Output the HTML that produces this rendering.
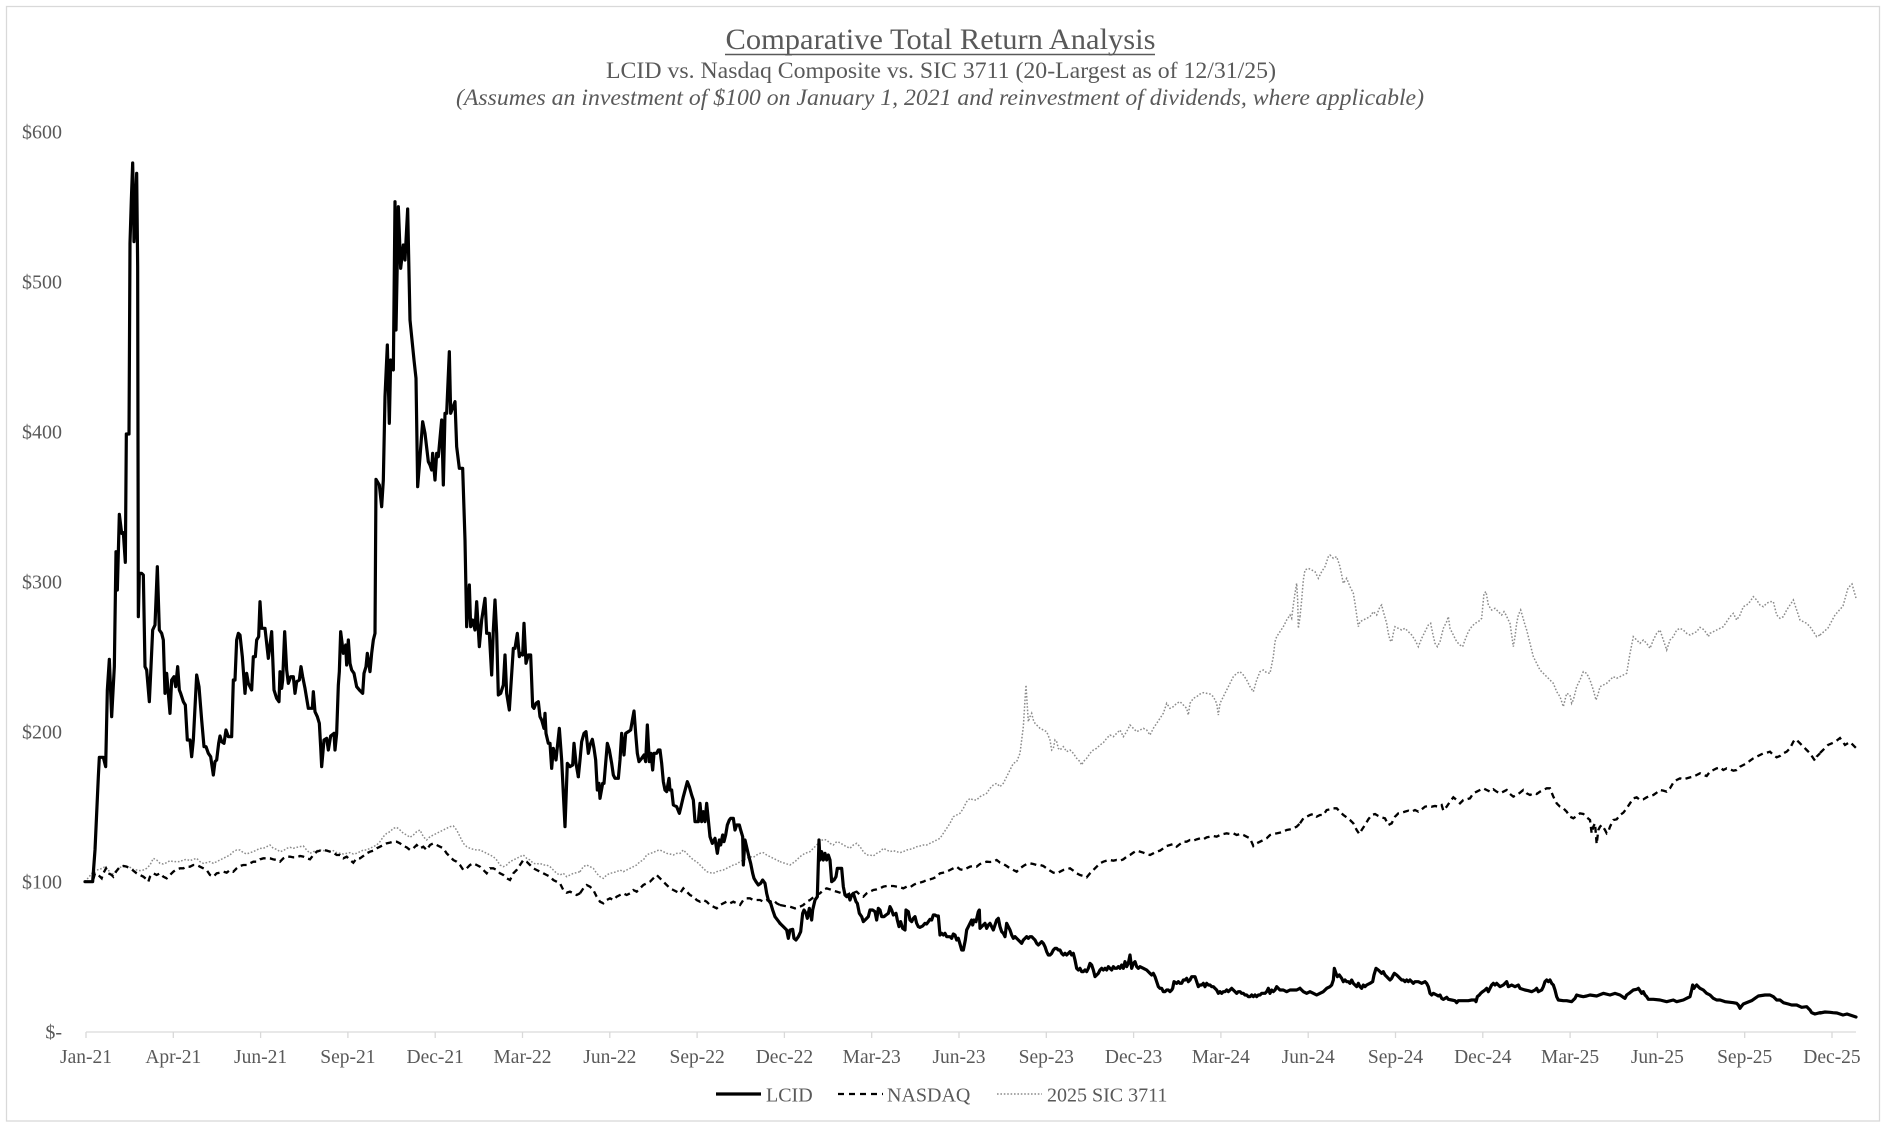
<!DOCTYPE html>
<html><head><meta charset="utf-8"><style>html,body{margin:0;padding:0;background:#fff}svg{display:block}</style></head>
<body>
<svg width="1881" height="1126" viewBox="0 0 1881 1126" xmlns="http://www.w3.org/2000/svg" font-family="'Liberation Serif', 'Times New Roman', serif">
<rect x="0" y="0" width="1881" height="1126" fill="#fff"/>
<rect x="6.5" y="6.5" width="1873" height="1114.5" fill="none" stroke="#d9d9d9" stroke-width="1.3"/>

<!-- titles -->
<text x="940.5" y="49" text-anchor="middle" font-size="30" fill="#595959" textLength="430" lengthAdjust="spacingAndGlyphs">Comparative Total Return Analysis</text>
<line x1="725" y1="54.5" x2="1155" y2="54.5" stroke="#595959" stroke-width="1.5"/>
<text x="941" y="78" text-anchor="middle" font-size="23.5" fill="#595959" textLength="670" lengthAdjust="spacingAndGlyphs">LCID vs. Nasdaq Composite vs. SIC 3711 (20-Largest as of 12/31/25)</text>
<text x="940" y="105" text-anchor="middle" font-size="23.5" font-style="italic" fill="#595959" textLength="968" lengthAdjust="spacingAndGlyphs">(Assumes an investment of $100 on January 1, 2021 and reinvestment of dividends, where applicable)</text>

<!-- y labels -->
<g font-size="20" fill="#595959" text-anchor="end">
<text x="62" y="138.5">$600</text>
<text x="62" y="288.5">$500</text>
<text x="62" y="438.5">$400</text>
<text x="62" y="588.5">$300</text>
<text x="62" y="738.5">$200</text>
<text x="62" y="888.5">$100</text>
<text x="62" y="1038.5">$-</text>
</g>

<!-- x axis -->
<line x1="86" y1="1032" x2="1856" y2="1032" stroke="#d9d9d9" stroke-width="1.3"/>
<g stroke="#d9d9d9" stroke-width="1.3">
<line x1="86" y1="1032" x2="86" y2="1038"/><line x1="173.3" y1="1032" x2="173.3" y2="1038"/><line x1="260.6" y1="1032" x2="260.6" y2="1038"/><line x1="347.9" y1="1032" x2="347.9" y2="1038"/><line x1="435.2" y1="1032" x2="435.2" y2="1038"/><line x1="522.5" y1="1032" x2="522.5" y2="1038"/><line x1="609.8" y1="1032" x2="609.8" y2="1038"/><line x1="697.1" y1="1032" x2="697.1" y2="1038"/><line x1="784.4" y1="1032" x2="784.4" y2="1038"/><line x1="871.7" y1="1032" x2="871.7" y2="1038"/><line x1="959" y1="1032" x2="959" y2="1038"/><line x1="1046.3" y1="1032" x2="1046.3" y2="1038"/><line x1="1133.6" y1="1032" x2="1133.6" y2="1038"/><line x1="1220.9" y1="1032" x2="1220.9" y2="1038"/><line x1="1308.2" y1="1032" x2="1308.2" y2="1038"/><line x1="1395.5" y1="1032" x2="1395.5" y2="1038"/><line x1="1482.8" y1="1032" x2="1482.8" y2="1038"/><line x1="1570.1" y1="1032" x2="1570.1" y2="1038"/><line x1="1657.4" y1="1032" x2="1657.4" y2="1038"/><line x1="1744.7" y1="1032" x2="1744.7" y2="1038"/><line x1="1832" y1="1032" x2="1832" y2="1038"/>
</g>
<g font-size="19.5" fill="#595959" text-anchor="middle">
<text x="86" y="1063">Jan-21</text><text x="173.3" y="1063">Apr-21</text><text x="260.6" y="1063">Jun-21</text><text x="347.9" y="1063">Sep-21</text><text x="435.2" y="1063">Dec-21</text><text x="522.5" y="1063">Mar-22</text><text x="609.8" y="1063">Jun-22</text><text x="697.1" y="1063">Sep-22</text><text x="784.4" y="1063">Dec-22</text><text x="871.7" y="1063">Mar-23</text><text x="959" y="1063">Jun-23</text><text x="1046.3" y="1063">Sep-23</text><text x="1133.6" y="1063">Dec-23</text><text x="1220.9" y="1063">Mar-24</text><text x="1308.2" y="1063">Jun-24</text><text x="1395.5" y="1063">Sep-24</text><text x="1482.8" y="1063">Dec-24</text><text x="1570.1" y="1063">Mar-25</text><text x="1657.4" y="1063">Jun-25</text><text x="1744.7" y="1063">Sep-25</text><text x="1832" y="1063">Dec-25</text>
</g>

<!-- ===== SIC 3711 (dotted gray) ===== -->
<g fill="none" stroke="#8c8c8c" stroke-width="4.5" stroke-dasharray="4.8 5.4">
<polyline transform="translate(80 400) scale(0.333333)" points="15,1445 40,1415 50,1410 60,1408 75,1400 85,1410 95,1425 105,1415 115,1405 125,1400 135,1398 150,1402 160,1408 170,1410 180,1412 190,1410 200,1405 210,1395 220,1375 230,1380 240,1390 250,1392 260,1388 270,1382 280,1385 290,1385 300,1385 310,1380 320,1378 330,1382 340,1378 350,1375 360,1385 370,1390 380,1388 390,1385 400,1390 410,1385 420,1380 430,1375 440,1370 450,1365 460,1355 470,1350 480,1350 490,1358 500,1362 510,1358 520,1355 530,1350 540,1345 550,1345 560,1340 570,1335 580,1345 590,1348 600,1355 610,1352 620,1345 630,1342 640,1345 650,1342 660,1340 670,1338 680,1350 690,1360 700,1355 710,1352 720,1350 730,1352 740,1350 750,1355 760,1352 770,1358 780,1360 790,1362 800,1360 810,1358 820,1362 830,1360 840,1355 850,1350 860,1350 870,1345 880,1340 890,1335 900,1325 910,1310 920,1300 930,1295 940,1285 950,1282 960,1290 970,1300 980,1305 990,1312 1000,1305 1010,1295 1020,1290 1030,1310 1040,1320 1050,1310 1060,1305 1070,1300 1080,1295 1090,1290 1100,1285 1110,1280 1120,1278 1130,1290 1140,1310 1150,1330 1160,1340 1170,1345 1180,1348 1190,1350 1200,1350 1210,1355 1220,1360 1230,1365 1240,1370 1250,1380 1260,1395 1270,1400 1280,1395 1290,1385 1300,1380 1310,1375 1320,1370 1330,1365 1340,1375 1350,1380 1360,1390 1370,1392 1380,1390 1390,1395 1400,1395 1410,1400 1420,1410 1430,1420 1440,1425 1450,1420 1460,1430 1470,1425 1480,1420 1490,1418 1500,1415"/>
<polyline transform="translate(480 420) scale(0.333333)" points="300,1355 310,1340 320,1335 330,1340 340,1345 350,1360 360,1370 370,1375 380,1365 390,1360 400,1358 410,1355 420,1350 430,1355 440,1350 450,1345 460,1340 470,1335 480,1325 490,1320 500,1305 510,1300 520,1298 530,1292 540,1290 550,1295 560,1300 570,1302 580,1305 590,1300 600,1300 610,1290 620,1300 630,1310 640,1320 650,1325 660,1335 670,1345 680,1355 690,1358 700,1360 710,1355 720,1352 730,1350 740,1345 750,1340 760,1335 770,1332 780,1325 790,1320 800,1315 810,1310 820,1312 830,1305 840,1300 850,1298 860,1305 870,1310 880,1315 890,1320 900,1325"/>
<polyline transform="translate(780 540) scale(0.333333)" points="0,965 15,970 30,975 45,965 60,950 75,940 90,935 100,925 110,915 120,905 130,898 140,900 150,910 160,915 170,905 180,908 190,915 200,920 210,925 220,915 230,910 240,920 250,935 260,945 270,945 280,948 290,940 300,935 310,925 320,930 330,935 340,932 350,935 360,938 370,935 380,930 390,928 400,925 410,920 420,918 430,915 440,915 450,910 460,905 470,900 480,895 490,880 500,865 510,850 520,830 530,825 540,820 550,805 560,785 570,775 580,780 590,780 600,770 610,765 620,760 630,745 640,735 650,730 660,740 670,730 680,710 690,690 700,670 710,665 720,640 730,560 735,480 738,435 742,500 745,545 750,530 755,520 760,540 765,550 770,555 780,565 790,570 800,575 810,600 815,630 820,625 825,600 830,605 835,625 840,630 850,620 860,635 870,630 880,640 890,655 900,665 905,675 910,665 920,655 930,640 940,630 950,625 960,615 970,608 980,595 990,585 1000,590 1010,580 1020,570 1030,590 1040,575 1050,555 1060,565 1070,575 1080,570 1090,565 1100,570 1110,585 1120,565 1130,550 1140,535 1150,520 1160,490 1170,505 1180,500 1190,490 1200,485 1210,495 1220,505 1225,525 1230,490 1240,475 1250,470 1260,462 1270,458 1280,460 1290,462 1300,470 1310,490 1315,525 1320,490 1330,470 1340,450 1350,430 1360,410 1370,400 1380,395 1390,405 1400,420 1410,440 1420,455 1430,420 1440,395 1450,390 1460,398 1470,400 1480,350 1485,305 1490,290 1500,275 1510,260 1520,240 1530,225 1535,235 1540,195 1545,160 1550,130 1553,180 1555,265 1560,230"/>
<polyline transform="translate(1300 540) scale(0.333333)" points="0,230 5,180 10,120 15,90 25,85 35,90 45,95 55,115 65,95 75,80 85,50 90,45 100,55 110,50 120,80 125,105 130,130 140,115 150,140 160,160 165,190 170,225 175,260 180,245 190,240 200,235 210,230 220,215 230,225 240,200 245,195 250,215 260,250 265,280 270,300 275,305 280,280 285,260 295,265 305,270 315,265 325,275 335,285 345,300 355,320 365,295 375,275 385,255 392,250 398,280 405,310 412,320 420,305 430,265 440,245 445,230 450,265 460,285 470,305 480,315 488,320 495,300 505,275 515,260 525,250 535,245 545,235 552,160 558,155 565,195 575,210 585,205 595,215 605,225 612,215 618,225 625,240 630,250 640,320 645,290 650,250 655,225 662,210 668,230 675,255 680,270 685,290 690,310 695,330 700,350 710,370 720,390 730,400 740,410 750,420 760,430 770,455 780,470 790,500 800,460 810,465 815,490 820,480 830,440 840,420 850,395 860,400 870,420 880,450 888,480 895,460 900,440 910,435 920,430 930,420 940,410 950,415 960,410 970,405 980,400 990,340 1000,290 1010,300 1020,310 1030,300 1040,310 1050,325 1060,300 1070,280 1080,270 1090,300 1100,330 1110,300 1120,290 1130,270 1140,265 1150,270 1160,280 1170,285 1180,280 1190,275 1200,262 1210,268 1220,280 1225,290 1230,280 1240,275 1250,270 1260,265 1270,260 1280,245 1290,230 1300,220 1310,240 1320,225 1330,200 1340,195 1350,185 1360,170 1370,180 1380,195 1390,200 1400,190 1410,185 1420,185 1425,205 1430,225 1440,235 1450,230 1460,210 1470,195 1480,180 1490,210 1500,240 1510,245 1520,250 1530,260 1540,275 1550,290 1560,285"/>
</g>
<polyline fill="none" stroke="#8c8c8c" stroke-width="1.5" stroke-dasharray="1.6 1.8" points="1820,635 1828,628 1835,615 1843,606 1848,588 1852,584 1856,598"/>

<!-- ===== NASDAQ (dashed) ===== -->
<g fill="none" stroke="#000" stroke-width="7" stroke-dasharray="18 13">
<polyline transform="translate(80 400) scale(0.333333)" points="15,1445 38,1445 45,1420 55,1425 65,1435 70,1420 78,1405 85,1420 95,1425 100,1430 108,1415 120,1400 130,1398 140,1400 150,1405 160,1412 170,1420 180,1425 190,1430 200,1438 205,1445 210,1430 220,1420 230,1425 240,1420 250,1430 260,1435 270,1425 280,1415 290,1408 300,1405 310,1405 320,1400 330,1400 340,1395 350,1395 360,1400 370,1405 380,1410 390,1425 400,1430 410,1420 420,1418 430,1415 440,1418 450,1410 460,1415 470,1405 480,1398 490,1395 500,1395 510,1390 520,1385 530,1385 540,1378 550,1375 560,1375 570,1375 580,1378 590,1380 600,1385 610,1375 620,1370 630,1370 640,1372 650,1372 660,1368 670,1370 680,1375 690,1378 700,1365 710,1355 720,1352 730,1350 740,1352 750,1355 760,1358 770,1365 780,1365 790,1375 800,1370 810,1380 820,1388 830,1375 840,1375 850,1368 860,1360 870,1355 880,1352 890,1345 900,1340 910,1335 920,1330 930,1328 940,1325 950,1325 960,1330 970,1338 980,1342 990,1350 1000,1345 1010,1335 1020,1345 1030,1340 1040,1350 1050,1335 1060,1330 1070,1335 1080,1340 1090,1345 1100,1360 1110,1370 1120,1380 1130,1385 1140,1395 1150,1410 1160,1405 1170,1395 1180,1390 1190,1395 1200,1400 1210,1410 1220,1420 1230,1405 1240,1405 1250,1410 1260,1420 1270,1425 1280,1435 1290,1440 1300,1420 1310,1410 1320,1395 1330,1380 1340,1385 1350,1395 1360,1405 1370,1410 1380,1415 1390,1420 1400,1425 1410,1430 1420,1440 1430,1445 1440,1450 1450,1470 1460,1478 1470,1475 1480,1480 1490,1485 1500,1480"/>
<polyline transform="translate(480 420) scale(0.333333)" points="300,1420 310,1405 320,1395 330,1400 340,1410 350,1430 360,1445 370,1450 380,1440 390,1435 400,1440 410,1430 420,1425 430,1420 440,1425 450,1420 460,1410 470,1415 480,1405 490,1395 500,1390 510,1385 520,1375 530,1365 540,1375 550,1385 560,1395 570,1405 580,1410 590,1415 600,1420 610,1405 620,1415 630,1425 640,1430 650,1440 660,1445 670,1440 680,1445 690,1455 700,1460 710,1465 720,1455 730,1450 740,1445 750,1450 760,1445 770,1450 780,1455 790,1440 800,1435 810,1435 820,1440 830,1440 840,1440 850,1445 860,1440 870,1445 880,1440 890,1450 900,1455"/>
<polyline transform="translate(780 540) scale(0.333333)" points="0,1095 15,1098 30,1100 45,1105 60,1100 70,1095 80,1085 90,1080 100,1072 110,1065 120,1060 130,1050 140,1045 150,1048 160,1052 170,1055 180,1058 190,1062 200,1065 210,1060 220,1058 230,1055 240,1065 250,1070 260,1060 270,1055 280,1050 290,1048 300,1045 310,1040 320,1038 330,1038 340,1038 350,1040 360,1042 370,1045 380,1040 390,1042 400,1035 410,1030 420,1028 430,1025 440,1020 450,1018 460,1015 470,1010 480,1000 490,998 500,995 510,990 520,985 530,980 540,988 550,990 560,985 570,980 580,978 590,980 600,972 610,968 620,965 630,966 640,965 650,960 660,968 670,972 680,978 690,985 700,990 710,995 720,985 730,978 740,972 750,970 760,972 770,975 780,975 790,978 800,985 810,992 820,998 830,1000 840,995 850,990 860,988 870,985 880,992 890,1000 900,1005 910,1008 920,1012 930,1000 940,990 950,980 960,970 970,965 980,962 990,960 1000,962 1010,960 1020,962 1030,958 1040,950 1050,945 1060,938 1070,932 1080,935 1090,938 1100,942 1110,945 1120,940 1130,935 1140,932 1150,925 1160,918 1170,915 1180,912 1190,920 1200,912 1210,905 1220,905 1230,900 1240,902 1250,898 1260,895 1270,898 1280,892 1290,890 1300,888 1310,890 1320,885 1330,882 1340,880 1350,882 1360,880 1370,885 1380,882 1390,885 1400,890 1410,895 1420,918 1430,910 1440,905 1450,900 1460,895 1470,885 1480,882 1490,880 1500,878 1510,875 1520,870 1530,868 1540,865 1550,860 1560,850"/>
<polyline transform="translate(1300 540) scale(0.333333)" points="0,850 10,835 20,830 30,825 40,822 50,830 60,825 70,825 80,810 90,808 100,805 110,805 120,815 130,825 140,832 150,840 160,850 170,870 178,882 185,870 195,855 205,838 215,825 225,822 235,828 245,832 255,835 265,855 275,850 285,830 295,820 305,818 315,815 325,812 335,815 345,810 355,815 365,808 375,800 385,798 395,800 405,798 415,800 425,795 430,812 440,800 450,785 460,772 470,780 480,790 490,780 500,778 510,775 520,760 530,755 540,750 550,745 560,750 570,755 580,748 590,755 600,760 610,755 620,750 630,762 640,770 650,765 660,758 670,750 680,760 690,765 700,760 710,762 720,755 730,750 740,745 750,745 760,770 770,790 780,800 790,805 800,815 810,830 820,835 830,828 840,820 850,822 860,832 870,840 875,880 880,860 885,850 890,912 895,870 900,860 905,855 910,862 915,870 920,880 925,875 930,860 935,850 940,840 950,838 960,825 970,818 980,805 990,790 1000,775 1010,772 1020,780 1030,778 1040,772 1050,768 1060,765 1070,758 1080,750 1090,752 1100,755 1110,745 1120,728 1130,720 1140,715 1150,718 1160,715 1170,712 1180,710 1190,705 1200,700 1210,705 1220,708 1230,695 1240,690 1250,685 1260,682 1270,690 1280,685 1290,688 1300,692 1310,690 1320,680 1330,675 1340,670 1350,662 1360,655 1370,650 1380,645 1390,640 1400,638 1410,635 1420,645 1430,652 1440,648 1450,640 1460,635 1470,625 1480,605 1485,598 1490,600 1500,610 1510,620 1520,630 1530,640 1540,655 1545,662 1550,650 1560,640"/>
</g>
<polyline fill="none" stroke="#000" stroke-width="2.3" stroke-dasharray="6 4.5" points="1820,753 1828,745 1835,742 1840,738 1845,745 1850,742 1856,748"/>

<!-- ===== LCID (solid thick) ===== -->
<g fill="none" stroke="#000" stroke-width="9.6" stroke-linejoin="round" stroke-linecap="round">
<polyline transform="translate(80 400) scale(0.333333)" points="15,1445 38,1445 45,1350 55,1130 58,1072 70,1072 77,1100 82,870 88,778 95,950 103,800 108,455 112,570 118,343 125,400 130,398 136,487 139,102 147,102 150,-470 154,-600 158,-711 161,-560 162,-475 166,-560 170,-680 173,-400 175,650 178,520 185,520 190,525 195,800 200,810 208,905 213,800 218,690 225,675 232,500 238,690 245,700 250,720 255,880 260,820 265,880 270,940 275,840 282,830 287,860 293,800 298,870 302,880 310,905 316,915 322,1020 330,1020 335,1070 340,1020 350,825 357,860 365,960 372,1040 378,1040 385,1060 392,1070 400,1125 405,1085 410,1080 416,1030 420,1008 425,1025 432,1030 438,990 445,1010 455,1010 460,840 465,840 470,720 475,700 480,705 487,770 495,880 500,820 505,850 515,870 520,770 526,770 530,720 536,710 540,605 545,685 555,685 565,775 575,695 582,870 590,895 597,905 600,815 605,865 608,840 614,695 620,810 625,850 632,830 640,830 645,880 650,845 658,840 663,800 668,830 675,865 685,925 697,925 700,875 705,935 712,950 718,970 722,1040 725,1100 732,1020 740,1015 745,1050 752,1008 762,1000 765,1050 770,1000 775,855 778,815 782,695 790,760 797,735 800,795 805,720 810,790 815,810 822,820 830,860 840,872 848,880 852,820 858,800 862,760 870,815 875,760 880,720 885,700 888,238 898,255 905,320 910,240 915,-10 922,-165 928,70 932,-120 940,-90 945,-595 948,-210 955,-580 962,-395 970,-465 975,-420 983,-573 990,-240 1002,-120 1008,-65 1013,260 1020,170 1028,65 1035,100 1045,185 1050,195 1055,210 1058,160 1065,240 1070,160 1075,170 1085,60 1090,255 1095,40 1100,40 1108,-145 1112,40 1125,5 1130,140 1138,205 1148,205 1155,420 1160,680 1168,555 1172,680 1178,660 1185,690 1190,605 1198,740 1205,660 1215,595 1220,700 1228,700 1235,825 1240,690 1245,600 1250,700 1255,885 1262,880 1270,855 1275,765 1280,880 1288,930 1300,745 1305,745 1312,700 1318,770 1322,760 1328,765 1332,670 1338,790 1345,765 1352,765 1358,920 1362,925 1368,910 1375,905 1380,950 1385,960 1392,985 1395,940 1398,1000 1405,1030 1410,1030 1415,1105 1420,1045 1428,1080 1438,985 1445,1080 1455,1280 1462,1090 1470,1100 1478,1095 1482,1030 1488,1090 1495,1130"/>
<polyline transform="translate(480 420) scale(0.333333)" points="295,1070 300,1020 305,965 312,940 318,935 325,1000 330,975 337,958 342,985 347,1020 352,1110 357,1090 360,1135 368,1090 372,1090 377,1030 382,970 388,990 395,1030 400,1065 405,1075 415,1075 420,1020 425,940 432,1005 437,940 445,935 452,930 458,895 462,873 467,940 472,1000 477,1025 485,1015 492,1005 497,1025 502,915 508,1025 513,1000 518,1050 522,1000 530,1000 535,990 540,990 545,1030 550,1085 555,1110 560,1115 567,1075 570,1110 575,1110 580,1155 590,1160 598,1180 603,1160 610,1130 618,1100 622,1085 628,1100 635,1125 640,1140 645,1205 655,1205 660,1150 665,1205 670,1175 675,1205 680,1150 685,1200 690,1250 697,1270 705,1255 712,1300 718,1260 722,1275 728,1245 732,1265 737,1245 742,1215 748,1200 752,1195 760,1195 765,1230 770,1215 778,1215 782,1230 788,1250 790,1335 795,1260 802,1290 808,1315 812,1330 818,1360 822,1375 828,1385 835,1395 842,1390 848,1380 855,1390 860,1420 865,1440 872,1450 878,1470 885,1490 900,1510"/>
<polyline transform="translate(780 540) scale(0.333333)" points="0,1150 10,1160 20,1170 25,1195 30,1170 38,1168 42,1195 48,1200 55,1190 62,1175 68,1120 72,1110 78,1120 82,1135 88,1105 95,1140 98,1110 105,1080 112,1070 117,900 120,960 125,935 130,960 135,940 140,960 145,945 150,960 155,1025 162,1020 168,1010 172,985 180,985 185,985 190,1040 195,1065 200,1070 205,1065 210,1080 215,1065 220,1060 228,1085 232,1090 238,1120 245,1130 250,1145 255,1140 260,1135 265,1130 270,1110 278,1110 285,1115 290,1140 295,1105 300,1110 305,1130 312,1130 318,1125 325,1120 330,1100 335,1110 340,1125 348,1120 352,1140 357,1160 362,1145 368,1165 375,1170 378,1110 385,1115 390,1140 395,1145 400,1135 405,1130 410,1150 415,1160 420,1162 428,1158 435,1150 440,1152 445,1145 450,1138 455,1140 460,1125 465,1125 470,1128 475,1128 480,1185 485,1180 490,1185 495,1180 500,1190 505,1190 510,1190 515,1195 520,1182 525,1185 530,1200 535,1195 540,1212 545,1230 550,1230 553,1215 556,1200 560,1170 565,1160 570,1150 575,1140 578,1155 582,1140 588,1145 595,1115 598,1110 600,1165 605,1160 610,1155 615,1150 620,1165 625,1155 630,1150 635,1160 640,1170 645,1155 650,1140 655,1135 660,1160 665,1175 670,1180 675,1190 680,1150 685,1160 690,1170 695,1185 700,1195 705,1190 710,1195 715,1200 720,1205 725,1210 730,1200 735,1195 740,1190 745,1195 750,1190 755,1190 760,1195 765,1200 770,1210 775,1215 780,1210 785,1205 790,1210 795,1220 800,1235 805,1245 810,1245 815,1240 820,1230 825,1225 830,1225 835,1230 840,1230 845,1240 850,1245 855,1240 860,1245 865,1240 870,1235 875,1245 880,1240 885,1260 890,1285 895,1290 900,1285 905,1295 910,1295 915,1290 920,1295 925,1285 930,1270 935,1275 940,1290 945,1310 950,1305 955,1300 960,1290 965,1285 970,1290 975,1285 980,1290 985,1280 990,1285 995,1290 1000,1280 1005,1285 1010,1285 1015,1280 1020,1285 1025,1275 1030,1285 1035,1265 1040,1280 1045,1270 1050,1245 1055,1285 1060,1270 1065,1265 1070,1280 1075,1285 1080,1280 1090,1285 1100,1290 1110,1300 1115,1305 1120,1300 1125,1310 1130,1325 1135,1340 1140,1345 1145,1345 1150,1355 1155,1355 1160,1350 1165,1350 1170,1355 1175,1350 1178,1345 1182,1325 1190,1330 1195,1325 1200,1330 1205,1330 1210,1320 1215,1320 1220,1315 1225,1325 1230,1320 1235,1310 1240,1310 1245,1310 1250,1325 1255,1340 1260,1335 1265,1335 1270,1330 1275,1340 1280,1330 1285,1335 1290,1335 1295,1340 1300,1340 1305,1345 1310,1350 1315,1360 1320,1355 1325,1360 1330,1355 1335,1355 1340,1350 1345,1355 1350,1350 1355,1345 1360,1350 1365,1355 1370,1360 1375,1355 1380,1355 1385,1360 1390,1360 1395,1365 1400,1365 1405,1370 1410,1370 1415,1365 1420,1370 1425,1365 1430,1370 1435,1365 1440,1365 1445,1360 1450,1360 1455,1360 1460,1355 1465,1345 1470,1360 1475,1350 1480,1355 1485,1350 1490,1340 1495,1345 1500,1350 1510,1350 1520,1355 1530,1350 1540,1350 1550,1350 1560,1345"/>
<polyline transform="translate(1300 540) scale(0.333333)" points="0,1345 10,1355 20,1360 30,1355 40,1360 50,1365 60,1360 70,1355 80,1345 90,1340 95,1335 100,1320 103,1285 108,1300 112,1310 118,1305 125,1315 130,1325 135,1320 140,1325 145,1325 150,1330 155,1320 160,1330 165,1335 170,1340 175,1330 180,1340 185,1345 190,1335 195,1340 200,1335 210,1330 218,1325 222,1305 228,1285 235,1290 240,1295 245,1300 250,1295 255,1305 260,1310 265,1315 270,1320 275,1315 280,1305 283,1300 290,1305 295,1310 300,1315 305,1320 310,1320 315,1325 320,1320 325,1325 330,1320 335,1325 340,1330 345,1325 355,1325 365,1330 375,1325 380,1330 385,1340 390,1360 395,1365 400,1360 410,1365 415,1368 420,1365 425,1375 430,1378 440,1372 445,1378 455,1380 465,1382 470,1388 475,1382 485,1382 495,1382 505,1382 515,1380 525,1380 528,1385 532,1370 538,1365 542,1360 548,1355 555,1350 560,1345 565,1355 570,1345 575,1335 580,1330 585,1335 590,1330 600,1340 610,1335 615,1330 620,1325 625,1340 635,1335 645,1340 655,1335 660,1345 675,1350 685,1352 695,1355 705,1350 710,1345 715,1355 725,1350 730,1340 735,1325 740,1320 745,1325 750,1320 755,1330 760,1335 765,1350 770,1370 775,1380 790,1382 800,1382 815,1385 825,1375 830,1365 840,1368 850,1370 860,1368 870,1365 890,1368 910,1360 930,1365 945,1360 960,1365 970,1372 975,1375 980,1365 990,1358 1000,1350 1010,1348 1015,1345 1020,1352 1025,1360 1030,1355 1035,1365 1040,1370 1045,1378 1060,1378 1080,1380 1100,1385 1120,1380 1130,1385 1150,1380 1160,1375 1170,1370 1175,1350 1178,1335 1182,1345 1185,1340 1190,1335 1200,1345 1210,1350 1220,1360 1230,1365 1240,1375 1250,1380 1260,1380 1275,1385 1300,1388 1310,1390 1315,1395 1320,1405 1325,1398 1330,1392 1340,1388 1355,1382 1365,1375 1375,1368 1395,1365 1410,1365 1420,1370 1430,1380 1440,1380 1450,1388 1465,1392 1475,1395 1490,1395 1505,1402 1520,1400 1525,1405 1530,1410 1535,1418 1540,1420 1545,1422 1560,1418"/>
</g>
<polyline fill="none" stroke="#000" stroke-width="3.2" stroke-linejoin="round" stroke-linecap="round" points="1820,1013 1825,1012 1830,1012.3 1833,1012.7 1837,1013 1840,1014 1843,1015 1847,1014 1850,1015 1853,1016 1856,1017"/>

<!-- legend -->
<line x1="716" y1="1094" x2="761" y2="1094" stroke="#000" stroke-width="3.2"/>
<text x="766" y="1101.5" font-size="20" fill="#595959">LCID</text>
<line x1="838" y1="1094" x2="883" y2="1094" stroke="#000" stroke-width="2.3" stroke-dasharray="6 5"/>
<text x="887" y="1101.5" font-size="20" fill="#595959">NASDAQ</text>
<line x1="997" y1="1094" x2="1042" y2="1094" stroke="#8c8c8c" stroke-width="1.5" stroke-dasharray="1.6 1.8"/>
<text x="1047" y="1101.5" font-size="20" fill="#595959">2025 SIC 3711</text>
</svg>
</body></html>
